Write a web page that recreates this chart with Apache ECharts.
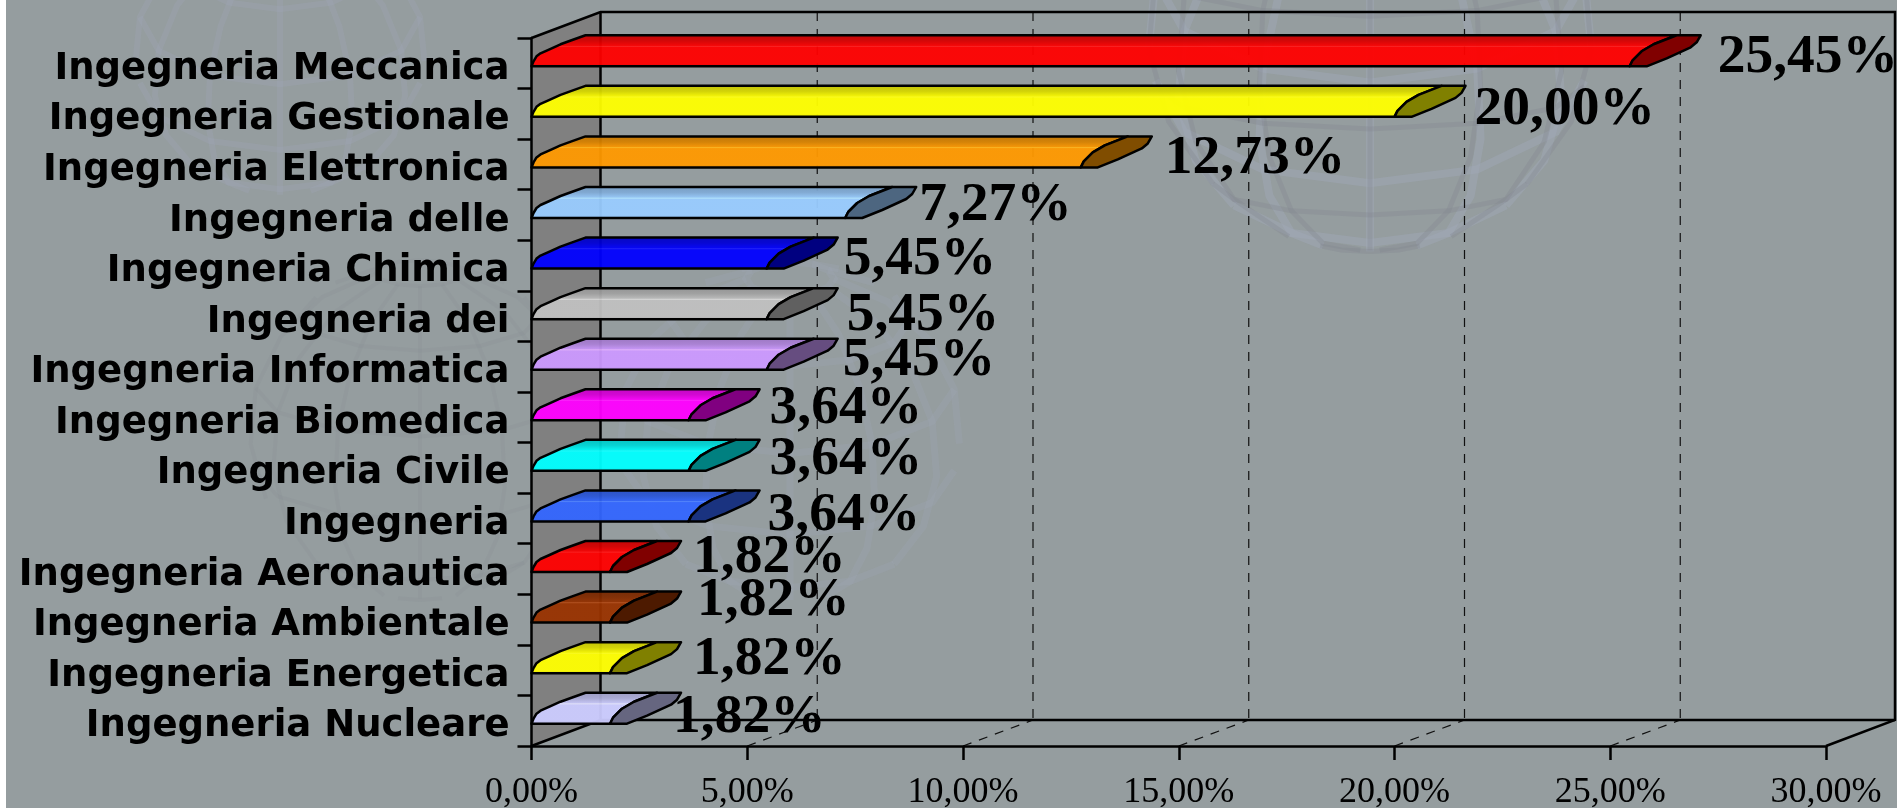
<!DOCTYPE html>
<html>
<head>
<meta charset="utf-8">
<title>Ingegneria</title>
<style>
  html, body { margin: 0; padding: 0; background: #fff; }
  #chart { width: 1897px; height: 808px; }
</style>
<script src="https://cdn.jsdelivr.net/npm/echarts@6/dist/echarts.min.js"></script>
</head>
<body>
<div id="chart"></div>
<script>
const categories = [
  'Ingegneria Meccanica', 'Ingegneria Gestionale', 'Ingegneria Elettronica', 'Ingegneria delle',
  'Ingegneria Chimica', 'Ingegneria dei', 'Ingegneria Informatica', 'Ingegneria Biomedica',
  'Ingegneria Civile', 'Ingegneria', 'Ingegneria Aeronautica', 'Ingegneria Ambientale',
  'Ingegneria Energetica', 'Ingegneria Nucleare'
]
const values = [25.45, 20.00, 12.73, 7.27, 5.45, 5.45, 5.45, 3.64, 3.64, 3.64, 1.82, 1.82, 1.82, 1.82]
const xTicks = [0, 5, 10, 15, 20, 25, 30]

const barColors = [
  [255, 0, 0], [255, 255, 0], [255, 153, 0], [153, 204, 255], [0, 0, 255], [192, 192, 192], [204, 153, 255],
  [255, 0, 255], [0, 255, 255], [51, 102, 255], [255, 0, 0], [153, 51, 0], [255, 255, 0], [204, 204, 255]
]
const capColors = [
  '#800000', '#808000', '#804d00', '#4d6680', '#000080', '#606060', '#664d80',
  '#800080', '#008080', '#1a3380', '#800000', '#4d1a00', '#808000', '#666680'
]

// label offsets from the bar end, the original chart had them dragged by hand
const labelDx = [88, 80, 84, 74, 77, 80, 76, 81, 81, 79, 83, 87, 83, 63]
const labelDy = [-6, -4, -6, -9, -6, 0, -6, -9, -8, -3, -11, -19, -10, -3]

const BG = '#959d9f'
const DEPTH_X = 69
const DEPTH_Y = 26
const LINE = 2.5

const pct = v => v.toFixed(2).replace('.', ',') + '%'
const rgb = (c, f, a) => `rgba(${c.map(n => Math.round(n * f)).join(',')},${a})`

function barFill (c) {
  return new echarts.graphic.LinearGradient(0, 0, 0, 1, [
    { offset: 0, color: rgb(c, 0.76, 0.95) },
    { offset: 0.2, color: rgb(c, 0.84, 0.95) },
    { offset: 0.34, color: rgb(c, 0.97, 0.95) },
    { offset: 0.37, color: `rgba(${c.map(n => Math.min(255, n + 28)).join(',')},0.95)` },
    { offset: 0.4, color: rgb(c, 1, 0.95) },
    { offset: 0.88, color: rgb(c, 1, 0.95) },
    { offset: 1, color: rgb(c, 0.88, 0.95) }
  ])
}

// walls, floor and dashed gridlines
function renderWalls (params, api) {
  const cs = params.coordSys
  const x0 = cs.x
  const x1 = cs.x + cs.width
  const top = cs.y
  const bottom = cs.y + cs.height
  const line = { stroke: '#000', lineWidth: LINE, fill: null }
  const dash = { stroke: '#111', lineWidth: 1.2, lineDash: [9, 8], fill: null }
  const children = [
    {
      type: 'polygon',
      shape: { points: [[x0, top], [x0 + DEPTH_X, top - DEPTH_Y], [x0 + DEPTH_X, bottom - DEPTH_Y], [x0, bottom]] },
      style: { fill: '#808080', stroke: null }
    }
  ]
  xTicks.slice(1, -1).forEach(t => {
    const x = api.coord([t, 0])[0]
    children.push({
      type: 'polyline',
      shape: { points: [[x + DEPTH_X + 1, top - DEPTH_Y], [x + DEPTH_X + 1, bottom - DEPTH_Y]] },
      style: dash
    })
    children.push({
      type: 'polyline',
      shape: { points: [[x, bottom], [x + DEPTH_X + 1, bottom - DEPTH_Y]] },
      style: dash
    })
  })
  children.push({
    type: 'polyline',
    shape: { points: [[x0, top], [x0 + DEPTH_X, top - DEPTH_Y], [x1 + DEPTH_X, top - DEPTH_Y], [x1 + DEPTH_X, bottom - DEPTH_Y], [x1, bottom]] },
    style: line
  })
  children.push({
    type: 'polyline',
    shape: { points: [[x0, bottom], [x0 + DEPTH_X, bottom - DEPTH_Y], [x1 + DEPTH_X, bottom - DEPTH_Y]] },
    style: line
  })
  children.push({
    type: 'polyline',
    shape: { points: [[x0 + DEPTH_X, top - DEPTH_Y], [x0 + DEPTH_X, bottom - DEPTH_Y]] },
    style: line
  })
  return { type: 'group', children }
}

// the bevelled bar: long face plus the darker end cap
function renderBar (params, api) {
  const i = api.value(1)
  const start = api.coord([0, i])
  const end = api.coord([api.value(0), i])
  const yb = start[1] + 3
  const xs = start[0]
  const xv = end[0]
  const face = [
    [xs, yb], [xs + 2, yb - 5], [xs + 5, yb - 10], [xs + 9, yb - 13], [xs + 18, yb - 17], [xs + 29, yb - 22],
    [xs + 40, yb - 26], [xs + 54, yb - 31], [xv + 47, yb - 31], [xv + 24, yb - 22], [xv + 12, yb - 15],
    [xv + 3, yb - 6], [xv, yb]
  ]
  const cap = [
    [xv, yb], [xv + 3, yb - 6], [xv + 12, yb - 15], [xv + 24, yb - 22], [xv + 47, yb - 31], [xv + 71, yb - 31],
    [xv + 67, yb - 24], [xv + 61, yb - 19], [xv + 37, yb - 8], [xv + 17, yb]
  ]
  return {
    type: 'group',
    children: [
      { type: 'polygon', shape: { points: face }, style: { fill: barFill(barColors[i]), stroke: '#000', lineWidth: 2.5, lineJoin: 'round' } },
      { type: 'polygon', shape: { points: cap }, style: { fill: capColors[i], stroke: '#000', lineWidth: 2.5, lineJoin: 'round' } }
    ]
  }
}

function renderLabel (params, api) {
  const i = api.value(1)
  const p = api.coord([api.value(0), i])
  return {
    type: 'text',
    x: p[0] + labelDx[i],
    y: p[1] + labelDy[i],
    style: {
      text: pct(api.value(0)),
      fill: '#000',
      font: 'bold 55.5px "Liberation Serif"',
      textAlign: 'left',
      textVerticalAlign: 'middle'
    }
  }
}

// faint wireframe globes of the slide background
function globe (cx, cy, r, tilt, color, width) {
  const out = []
  const stroke = pts => out.push({
    type: 'polyline',
    silent: true,
    shape: { points: pts },
    style: { stroke: color, lineWidth: width, fill: null }
  })
  const project = (lat, lon) => {
    const x = Math.cos(lat) * Math.sin(lon)
    const y = Math.sin(lat)
    const z = Math.cos(lat) * Math.cos(lon)
    const yy = y * Math.cos(tilt) - z * Math.sin(tilt)
    const zz = y * Math.sin(tilt) + z * Math.cos(tilt)
    return zz < -0.15 ? null : [cx + r * x, cy - r * yy]
  }
  for (let la = -75; la <= 75; la += 30) {
    const pts = []
    for (let lo = -180; lo <= 180; lo += 30) {
      const p = project(la * Math.PI / 180, lo * Math.PI / 180)
      if (p) pts.push(p)
    }
    stroke(pts)
  }
  for (let lo = 0; lo < 360; lo += 30) {
    const pts = []
    for (let la = -85; la <= 85; la += 20) {
      const p = project(la * Math.PI / 180, lo * Math.PI / 180)
      if (p) pts.push(p)
    }
    stroke(pts)
  }
  return out
}

const chart = echarts.init(document.getElementById('chart'))
const barData = values.map((v, i) => [v, i])

chart.setOption({
  animation: false,
  backgroundColor: '#fff',
  graphic: [
    { type: 'rect', silent: true, z: -10, shape: { x: 6, y: 0, width: 1891, height: 808 }, style: { fill: BG } },
    ...globe(1370, 30, 222, 0.5, 'rgba(160,167,182,0.5)', 8),
    ...globe(1370, 30, 222, 0.2, 'rgba(128,133,142,0.3)', 5),
    ...globe(280, 50, 145, 0.5, 'rgba(160,167,182,0.3)', 6),
    ...globe(790, 430, 170, 0.4, 'rgba(160,167,182,0.25)', 7),
    ...globe(420, 430, 170, 0.3, 'rgba(128,133,142,0.14)', 4)
  ].map(g => Object.assign(g, { z: -10 })),
  grid: { left: 531.5, top: 38, width: 1294.5, height: 708, containLabel: false, outerBoundsMode: 'none' },
  xAxis: {
    type: 'value',
    min: 0,
    max: 30,
    interval: 5,
    z: 2,
    axisLine: { show: true, lineStyle: { color: '#000', width: LINE } },
    axisTick: { show: true, length: 14, lineStyle: { color: '#000', width: LINE } },
    axisLabel: { margin: 29, color: '#000', fontFamily: 'Liberation Serif', fontSize: 36, formatter: v => pct(v), hideOverlap: false, showMinLabel: true, showMaxLabel: true },
    splitLine: { show: false }
  },
  yAxis: {
    type: 'category',
    inverse: true,
    data: categories,
    z: 2,
    axisLine: { show: true, lineStyle: { color: '#000', width: LINE } },
    axisTick: { show: true, length: 14, lineStyle: { color: '#000', width: LINE } },
    axisLabel: { margin: 22, color: '#000', fontFamily: 'DejaVu Sans', fontWeight: 'bold', fontSize: 37, interval: 0, verticalAlign: 'top', lineHeight: 12 },
    splitLine: { show: false }
  },
  series: [
    { type: 'custom', z: 1, coordinateSystem: 'cartesian2d', renderItem: renderWalls, data: [[0, 0]], silent: true, clip: false },
    { type: 'custom', z: 3, coordinateSystem: 'cartesian2d', renderItem: renderBar, data: barData, encode: { x: 0, y: 1 }, clip: false },
    { type: 'custom', z: 6, coordinateSystem: 'cartesian2d', renderItem: renderLabel, data: barData, encode: { x: 0, y: 1 }, clip: false }
  ]
})
</script>
</body>
</html>
